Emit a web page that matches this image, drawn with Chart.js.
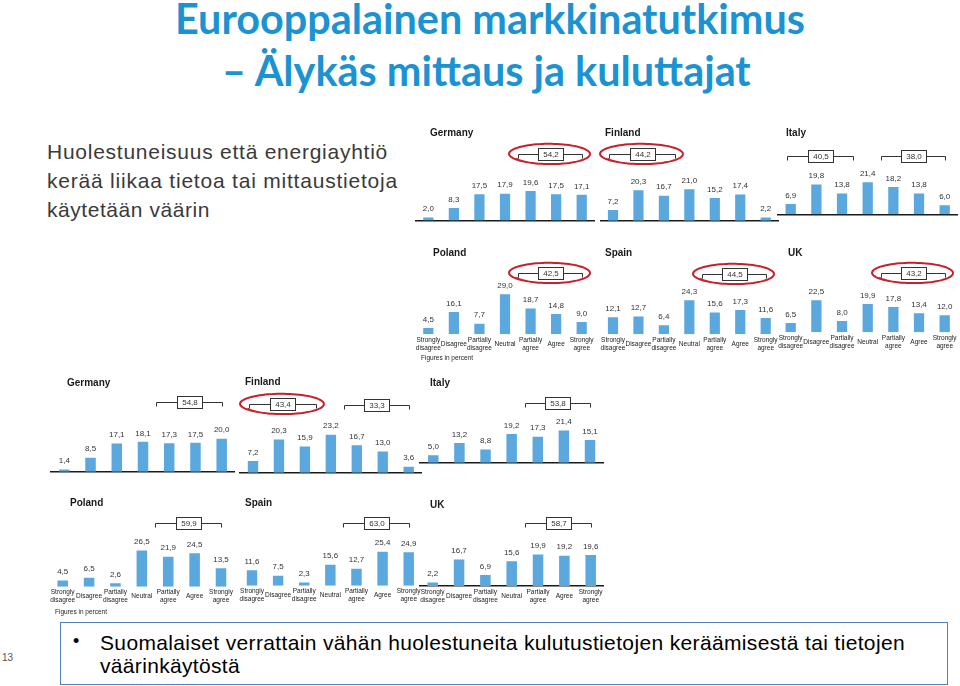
<!DOCTYPE html>
<html><head><meta charset="utf-8">
<script src="https://cdn.jsdelivr.net/npm/chart.js@4.4.0/dist/chart.umd.min.js"></script>
<style>
html,body{margin:0;padding:0;background:#fff;}
body{width:960px;height:686px;position:relative;overflow:hidden;font-family:'Liberation Sans',Arial,sans-serif;}
.t{position:absolute;white-space:nowrap;line-height:1;}
canvas{position:absolute;}
#title1,#title2{font-family:'Lato','Open Sans',sans-serif;font-weight:700;color:#1b93d3;}
.lt{font-size:21px;color:#3a3a3a;}
.bt{font-size:21px;color:#000;}
#box{position:absolute;left:60px;top:622px;width:886px;height:61px;border:1.5px solid #4f7fc0;}
</style></head><body>
<div id="title1" class="t" style="left:175px;top:-2px;font-size:40px;">Eurooppalainen markkinatutkimus</div>
<div id="title2" class="t" style="left:222px;top:50px;font-size:40px;">– Älykäs mittaus ja kuluttajat</div>
<div id="l1" class="t lt" style="left:47px;top:141px;">Huolestuneisuus että energiayhtiö</div>
<div id="l2" class="t lt" style="left:47px;top:170px;">kerää liikaa tietoa tai mittaustietoja</div>
<div id="l3" class="t lt" style="left:47px;top:199px;">käytetään väärin</div>
<div id="box"></div>
<div class="t" style="left:73px;top:632px;font-size:18px;">•</div>
<div id="b1" class="t bt" style="left:100px;top:632px;">Suomalaiset verrattain vähän huolestuneita kulutustietojen keräämisestä tai tietojen</div>
<div id="b2" class="t bt" style="left:100px;top:655px;">väärinkäytöstä</div>
<div class="t" style="left:2px;top:653px;font-size:10px;color:#555;">13</div>
<script>
// ---------- DATA ----------
const categories = [['Strongly','disagree'],'Disagree',['Partially','disagree'],'Neutral',['Partially','agree'],'Agree',['Strongly','agree']];
const countryNames = ['Germany','Finland','Italy','Poland','Spain','UK'];
// upper survey
const germanyA = [2.0, 8.3, 17.5, 17.9, 19.6, 17.5, 17.1];
const finlandA = [7.2, 20.3, 16.7, 21.0, 15.2, 17.4, 2.2];
const italyA   = [6.9, 19.8, 13.8, 21.4, 18.2, 13.8, 6.0];
const polandA  = [4.5, 16.1, 7.7, 29.0, 18.7, 14.8, 9.0];
const spainA   = [12.1, 12.7, 6.4, 24.3, 15.6, 17.3, 11.6];
const ukA      = [6.5, 22.5, 8.0, 19.9, 17.8, 13.4, 12.0];
// lower survey
const germanyB = [1.4, 8.5, 17.1, 18.1, 17.3, 17.5, 20.0];
const finlandB = [7.2, 20.3, 15.9, 23.2, 16.7, 13.0, 3.6];
const italyB   = [5.0, 13.2, 8.8, 19.2, 17.3, 21.4, 15.1];
const polandB  = [4.5, 6.5, 2.6, 26.5, 21.9, 24.5, 13.5];
const spainB   = [11.6, 7.5, 2.3, 15.6, 12.7, 25.4, 24.9];
const ukB      = [2.2, 16.7, 6.9, 15.6, 19.9, 19.2, 19.6];
const figuresNote = 'Figures in percent';

// ---------- TEXT FITTING ----------
function fitSpacing(id, target){
  const el=document.getElementById(id);
  el.style.letterSpacing='0px';
  const w=el.getBoundingClientRect().width;
  const n=el.textContent.length;
  el.style.letterSpacing=((target-w)/n)+'px';
}
(function(){
  const t1=document.getElementById('title1');
  const w=t1.getBoundingClientRect().width;
  const fs=40*630/w;
  t1.style.fontSize=fs+'px';
  document.getElementById('title2').style.fontSize=fs+'px';
})();
fitSpacing('l1',341); fitSpacing('l2',351); fitSpacing('l3',163);
fitSpacing('b1',805); fitSpacing('b2',140);

// ---------- CHARTS ----------
const BAR='#5aa8dd';
const fmt=v=>v.toFixed(1).replace('.',',');
const groups={disagree:{idx:[0,1,2],from:-0.15,to:2.43},agree:{idx:[4,5,6],from:3.5,to:6}};

function handEllipse(ctx,cx,cy,rx,ry){
  ctx.beginPath();
  const a0=0.72*Math.PI, span=2*Math.PI+0.45, steps=90;
  for(let s=0;s<=steps;s++){
    const t=s/steps, a=a0+span*t;
    const k=1-0.10*t;
    const x=cx+rx*k*Math.cos(a), y=cy+ry*k*Math.sin(a)+1.2*t;
    if(s===0) ctx.moveTo(x,y); else ctx.lineTo(x,y);
  }
  ctx.stroke();
}

const overlay={
  id:'overlay',
  afterDatasetsDraw(chart){
    const c=chart.$cfg; if(!c) return;
    const ctx=chart.ctx, ox=c._left, oy=c._top;
    const meta=chart.getDatasetMeta(0);
    const xs=chart.scales.x;
    ctx.save();
    ctx.textAlign='center'; ctx.textBaseline='middle';
    ctx.font='8px "Liberation Sans", Arial, sans-serif'; ctx.fillStyle='#333';
    meta.data.forEach((el,i)=>ctx.fillText(fmt(c.values[i]), el.x, el.y-8.5));
    ctx.textAlign='left';
    ctx.font='bold 10px "Liberation Sans", Arial, sans-serif'; ctx.fillStyle='#1a1a1a';
    ctx.fillText(c.name, c.titleX-ox, c.titleY-oy);
    if(c.note){
      ctx.font='6.5px "Liberation Sans", Arial, sans-serif'; ctx.fillStyle='#222';
      ctx.fillText(figuresNote, c.note[0]-ox, c.note[1]-oy);
    }
    c.brackets.forEach(b=>{
      const g=groups[b.group];
      const x1=Math.round(xs.getPixelForValue(g.from))+0.5, x2=Math.round(xs.getPixelForValue(g.to))+0.5;
      const y=Math.round(b.y-oy)+0.5;
      ctx.strokeStyle='#333'; ctx.lineWidth=1;
      ctx.beginPath(); ctx.moveTo(x1,y+4); ctx.lineTo(x1,y); ctx.lineTo(x2,y); ctx.lineTo(x2,y+4); ctx.stroke();
      const mid=Math.round((x1+x2)/2);
      const sum=g.idx.reduce((s,i)=>s+c.values[i],0);
      ctx.fillStyle='#fff'; ctx.fillRect(mid-12.5,y-6,25,12);
      ctx.strokeRect(mid-12.5,y-6,25,12);
      ctx.fillStyle='#333'; ctx.font='8px "Liberation Sans", Arial, sans-serif'; ctx.textAlign='center';
      ctx.fillText(fmt(sum), mid, y+0.5);
      if(b.circled){
        ctx.strokeStyle='#c8202a'; ctx.lineWidth=2;
        handEllipse(ctx,(x1+x2)/2,y-1,(x2-x1)/2+10,10.5);
      }
    });
    ctx.restore();
  }
};

const charts=[
  {name:countryNames[0],values:germanyA,first:428.3,last:581.7,baseline:220.5,ppu:1.5,titleX:430,titleY:133,axisLine:true,ticks:false,brackets:[{group:'agree',y:154,circled:true}]},
  {name:countryNames[1],values:finlandA,first:613,last:765.7,baseline:220.7,ppu:1.5,titleX:605,titleY:133,axisLine:true,ticks:false,brackets:[{group:'disagree',y:154,circled:true}]},
  {name:countryNames[2],values:italyA,first:790.7,last:944.7,baseline:214.3,ppu:1.5,titleX:786,titleY:133,axisLine:true,ticks:false,brackets:[{group:'disagree',y:156},{group:'agree',y:156}]},
  {name:countryNames[3],values:polandA,first:428.3,last:581.7,baseline:334.3,ppu:1.38,titleX:433,titleY:253,axisLine:false,ticks:true,note:[421,358],brackets:[{group:'agree',y:273,circled:true}]},
  {name:countryNames[4],values:spainA,first:613,last:765.7,baseline:334.3,ppu:1.4,titleX:605,titleY:253,axisLine:false,ticks:true,brackets:[{group:'agree',y:274,circled:true}]},
  {name:countryNames[5],values:ukA,first:790.7,last:944.7,baseline:332.3,ppu:1.42,titleX:788,titleY:253,axisLine:false,ticks:true,brackets:[{group:'agree',y:273,circled:true}]},
  {name:countryNames[0],values:germanyB,first:64.3,last:221.7,baseline:471.7,ppu:1.65,titleX:67,titleY:383,axisLine:true,ticks:false,brackets:[{group:'agree',y:402}]},
  {name:countryNames[1],values:finlandB,first:253,last:408.7,baseline:472.7,ppu:1.64,titleX:245,titleY:382,axisLine:true,ticks:false,brackets:[{group:'disagree',y:404,circled:true},{group:'agree',y:404.5}]},
  {name:countryNames[2],values:italyB,first:433.3,last:590,baseline:462.7,ppu:1.5,titleX:430,titleY:383,axisLine:true,ticks:false,brackets:[{group:'agree',y:403}]},
  {name:countryNames[3],values:polandB,first:62.7,last:221,baseline:586.7,ppu:1.37,titleX:70,titleY:503,axisLine:false,ticks:true,note:[55,612],brackets:[{group:'agree',y:523}]},
  {name:countryNames[4],values:spainB,first:252,last:408.7,baseline:585.7,ppu:1.34,titleX:245,titleY:503,axisLine:false,ticks:true,brackets:[{group:'agree',y:523}]},
  {name:countryNames[5],values:ukB,first:432.7,last:590.7,baseline:586,ppu:1.58,titleX:430,titleY:505,axisLine:true,ticks:true,brackets:[{group:'agree',y:523}]}
];

function makeChart(c){
  const cw=(c.last-c.first)/6;
  const areaL=c.first-cw/2, areaR=c.last+cw/2;
  const left=Math.round(areaL-24), W=Math.round(areaR-areaL+48);
  const top=c.titleY-14;
  const H=Math.round(c.baseline-top+(c.ticks?36:8));
  c._left=left; c._top=top;
  const cv=document.createElement('canvas');
  cv.width=W; cv.height=H;
  cv.style.left=left+'px'; cv.style.top=top+'px';
  cv.style.width=W+'px'; cv.style.height=H+'px';
  document.body.appendChild(cv);
  const padTop=20;
  const pad={left:areaL-left,right:left+W-areaR,top:padTop,bottom:0};
  const wantBottom=c.baseline-top;
  const chart=new Chart(cv,{
    type:'bar',
    data:{labels:categories,datasets:[{data:c.values,backgroundColor:BAR,barPercentage:0.4,categoryPercentage:1,borderWidth:0}]},
    options:{
      responsive:false,animation:false,devicePixelRatio:1,
      layout:{padding:Object.assign({},pad)},
      plugins:{legend:{display:false},tooltip:{enabled:false}},
      scales:{
        x:{display:true,offset:true,
           grid:{display:true,color:'rgba(0,0,0,0)',drawTicks:false},
           border:{display:c.axisLine,color:'#1a1a1a',width:1.5},
           ticks:{display:c.ticks,color:'#222',padding:6,maxRotation:0,minRotation:0,autoSkip:false,crossAlign:'center',
                  font:{family:"'Liberation Sans Narrow','Liberation Sans',Arial,sans-serif",size:6.5,lineHeight:1.2}}},
        y:{display:false,min:0,max:50}
      }
    },
    plugins:[overlay]
  });
  chart.$cfg=c;
  for(let k=0;k<3;k++){
    const ca=chart.chartArea;
    pad.bottom=Math.max(0,pad.bottom+(ca.bottom-wantBottom));
    pad.left+=(areaL-left)-ca.left;
    pad.right+=ca.right-(areaR-left);
    chart.options.layout.padding=Object.assign({},pad);
    chart.options.scales.y.max=(wantBottom-padTop)/c.ppu;
    chart.update('none');
  }
}
charts.forEach(makeChart);
</script>
</body></html>
